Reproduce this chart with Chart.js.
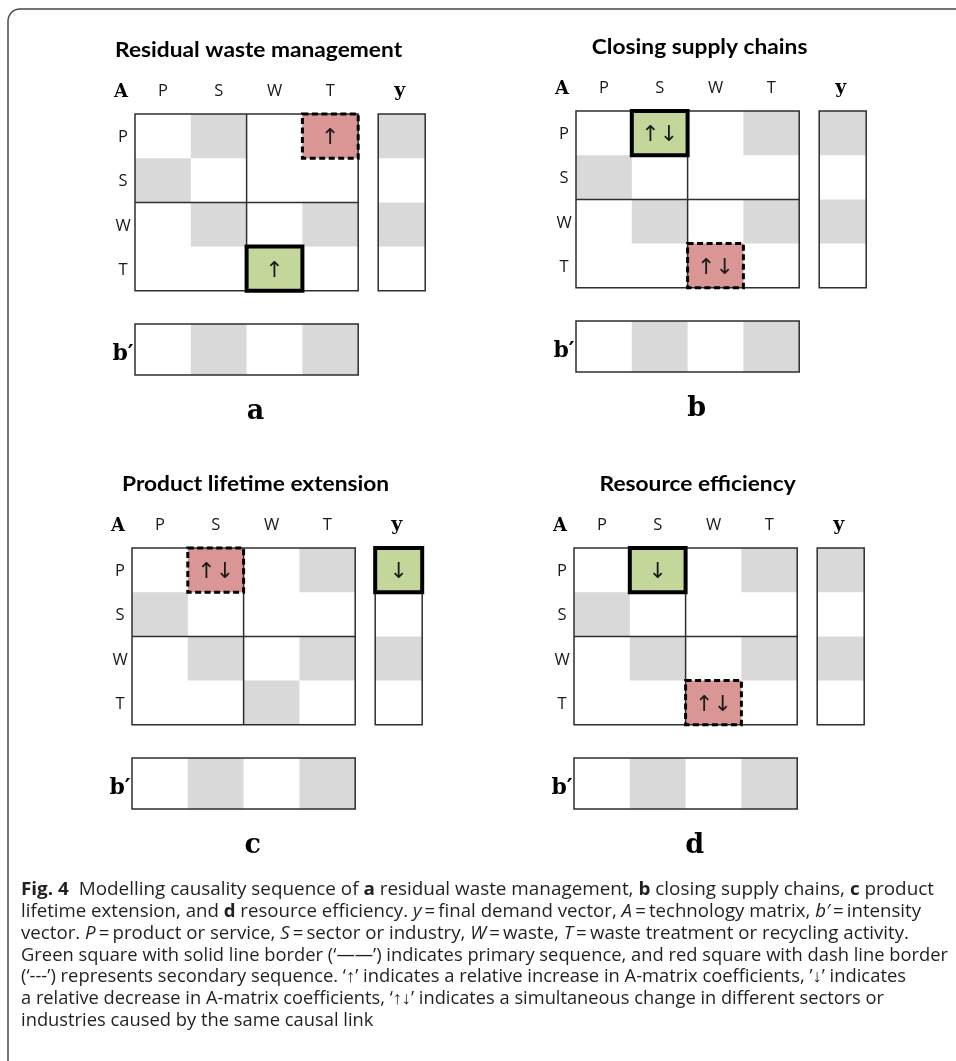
<!DOCTYPE html>
<html>
<head>
<meta charset="utf-8">
<script src="https://cdn.jsdelivr.net/npm/chart.js@4.4.0/dist/chart.umd.min.js"></script>
<style>
html, body { margin: 0; padding: 0; background: #fff; }
canvas { display: block; }
</style>
</head>
<body>
<canvas id="fig" width="956" height="1061"></canvas>
<script>
// ---- data ----
const ROWS = ['P', 'S', 'W', 'T'];
const COLS = ['P', 'S', 'W', 'T'];
const TITLES = ['Residual waste management', 'Closing supply chains', 'Product lifetime extension', 'Resource efficiency'];
const LETTERS = ['a', 'b', 'c', 'd'];
// shaded (non-zero) cells of A, y and b'
const A_SHADE = [[0, 1, 0, 1], [1, 0, 0, 0], [0, 1, 0, 1], [0, 0, 1, 0]];
const Y_SHADE = [1, 0, 1, 0];
const B_SHADE = [0, 1, 0, 1];
// [panel, block, row, col, change]
const PRIMARY = [[0, 'A', 3, 2, '↑'], [1, 'A', 0, 1, '↑↓'], [2, 'y', 0, 0, '↓'], [3, 'A', 0, 1, '↓']];
const SECONDARY = [[0, 'A', 0, 3, '↑'], [1, 'A', 3, 2, '↑↓'], [2, 'A', 0, 1, '↑↓'], [3, 'A', 3, 2, '↑↓']];
const CAPTION = [
  [['Fig. 4', 'b'], ['  Modelling causality sequence of ', 'n'], ['a', 'b'], [' residual waste management, ', 'n'], ['b', 'b'], [' closing supply chains, ', 'n'], ['c', 'b'], [' product', 'n']],
  [['lifetime extension, and ', 'n'], ['d', 'b'], [' resource efficiency. ', 'n'], ['y', 'i'], ['\u2009=\u2009final demand vector, ', 'n'], ['A', 'i'], ['\u2009=\u2009technology matrix, ', 'n'], ['b′', 'i'], ['\u2009=\u2009intensity', 'n']],
  [['vector. ', 'n'], ['P', 'i'], ['\u2009=\u2009product or service, ', 'n'], ['S', 'i'], ['\u2009=\u2009sector or industry, ', 'n'], ['W', 'i'], ['\u2009=\u2009waste, ', 'n'], ['T', 'i'], ['\u2009=\u2009waste treatment or recycling activity.', 'n']],
  [['Green square with solid line border (‘——’) indicates primary sequence, and red square with dash line border', 'n']],
  [['(‘---’) represents secondary sequence. ‘↑’ indicates a relative increase in A-matrix coefficients, ’↓’ indicates', 'n']],
  [['a relative decrease in A-matrix coefficients, ‘↑↓’ indicates a simultaneous change in different sectors or', 'n']],
  [['industries caused by the same causal link', 'n']]
];

// ---- layout ----
const ORIGINS = [[135, 114], [576, 111], [132, 548], [574, 548]];
const CW = 55.8, CH = 44.2;
const Y_GAP = 20, Y_W = 47;
const B_OFF = 210, B_H = 51;
const CAP_LEFT = 21, CAP_TOP = 895, CAP_STEP = 21.85;
const CAP_ENDS = [934, 921, 909, 948, 906, 884, null];
const GRAY = '#d9d9d9', GREEN = '#c4d79b', RED = '#da9694', LINE = '#2e2e2e';

function cellBox(p, block, r, c) {
  const [l, t] = ORIGINS[p];
  if (block === 'y') return [l + 4 * CW + Y_GAP, t + r * CH, Y_W, CH];
  if (block === 'b') return [l + c * CW, t + B_OFF, CW, B_H];
  return [l + c * CW, t + r * CH, CW, CH];
}

function drawText(ctx, text, x, y, font, align, sx) {
  ctx.save();
  ctx.font = font;
  ctx.textAlign = align || 'center';
  ctx.textBaseline = 'alphabetic';
  ctx.translate(x, y);
  ctx.scale(sx || 1, 1);
  ctx.fillText(text, 0, 0);
  ctx.restore();
}

const CAP_FONT = { n: '18px "Open Sans"', b: '700 18px "Open Sans"', i: 'italic 18px "Open Sans"' };

function runsWidth(ctx, runs) {
  let w = 0;
  runs.forEach(([txt, st]) => { ctx.font = CAP_FONT[st]; w += ctx.measureText(txt).width; });
  return w;
}

const figurePlugin = {
  id: 'figure',
  afterDraw(chart) {
    const ctx = chart.ctx;
    const xs = chart.scales.x, ys = chart.scales.y;
    const X = v => xs.getPixelForValue(v);
    const Y = v => ys.getPixelForValue(v);
    const rectPath = (x, y, w, h) => { ctx.beginPath(); ctx.rect(X(x), Y(y), X(x + w) - X(x), Y(y + h) - Y(y)); };
    const fillBox = (b, col) => { ctx.fillStyle = col; rectPath(b[0], b[1], b[2], b[3]); ctx.fill(); };
    const line = (x0, y0, x1, y1) => { ctx.beginPath(); ctx.moveTo(X(x0), Y(y0)); ctx.lineTo(X(x1), Y(y1)); ctx.stroke(); };

    // frame
    ctx.save();
    ctx.strokeStyle = '#4a4a4a';
    ctx.lineWidth = 1.5;
    ctx.beginPath();
    ctx.moveTo(X(8), Y(1061));
    ctx.lineTo(X(8), Y(21));
    ctx.arcTo(X(8), Y(9), X(20), Y(9), 12);
    ctx.lineTo(X(956), Y(9));
    ctx.stroke();
    ctx.restore();

    // title width calibration
    ctx.font = '700 21px Lato';
    const tScale = 287 / ctx.measureText(TITLES[0]).width;

    for (let p = 0; p < 4; p++) {
      const [l, t] = ORIGINS[p];
      // shading
      for (let r = 0; r < ROWS.length; r++) {
        for (let c = 0; c < COLS.length; c++) {
          if (A_SHADE[r][c]) fillBox(cellBox(p, 'A', r, c), GRAY);
        }
        if (Y_SHADE[r]) fillBox(cellBox(p, 'y', r, 0), GRAY);
      }
      for (let c = 0; c < COLS.length; c++) if (B_SHADE[c]) fillBox(cellBox(p, 'b', 0, c), GRAY);

      const prim = PRIMARY.filter(d => d[0] === p);
      const sec = SECONDARY.filter(d => d[0] === p);
      prim.forEach(d => fillBox(cellBox(p, d[1], d[2], d[3]), GREEN));
      sec.forEach(d => fillBox(cellBox(p, d[1], d[2], d[3]), RED));

      // grid lines
      ctx.save();
      ctx.strokeStyle = LINE;
      ctx.lineWidth = 1.5;
      rectPath(l, t, 4 * CW, 4 * CH); ctx.stroke();
      line(l + 2 * CW, t, l + 2 * CW, t + 4 * CH);
      line(l, t + 2 * CH, l + 4 * CW, t + 2 * CH);
      rectPath(l + 4 * CW + Y_GAP, t, Y_W, 4 * CH); ctx.stroke();
      rectPath(l, t + B_OFF, 4 * CW, B_H); ctx.stroke();
      ctx.restore();

      // highlight borders
      ctx.save();
      ctx.strokeStyle = '#000';
      prim.forEach(d => {
        const b = cellBox(p, d[1], d[2], d[3]);
        ctx.lineWidth = 4; ctx.setLineDash([]);
        rectPath(b[0], b[1], b[2], b[3]); ctx.stroke();
      });
      sec.forEach(d => {
        const b = cellBox(p, d[1], d[2], d[3]);
        ctx.lineWidth = 3; ctx.setLineDash([6, 3.5]);
        rectPath(b[0], b[1], b[2], b[3]); ctx.stroke();
      });
      ctx.restore();

      ctx.fillStyle = '#1a1a1a';
      prim.concat(sec).forEach(d => {
        const b = cellBox(p, d[1], d[2], d[3]);
        drawText(ctx, d[4], X(b[0] + b[2] / 2), Y(b[1] + b[3] / 2 + 8), '22px "DejaVu Sans"', 'center');
      });

      // labels
      ctx.fillStyle = '#000';
      const cx = l + 2 * CW;
      drawText(ctx, TITLES[p], X(cx + 12), Y(t - 57), '700 21px Lato', 'center', tScale);
      drawText(ctx, 'A', X(l - 14), Y(t - 17), '700 18px "DejaVu Serif"', 'center');
      drawText(ctx, 'y', X(l + 4 * CW + Y_GAP + Y_W / 2 - 2), Y(t - 18), '700 19px "DejaVu Serif"', 'center');
      ctx.fillStyle = '#1a1a1a';
      COLS.forEach((c, i) => drawText(ctx, c, X(l + (i + 0.5) * CW), Y(t - 18), '16.5px "Open Sans"', 'center'));
      ROWS.forEach((r, i) => drawText(ctx, r, X(l - 12), Y(t + (i + 0.5) * CH + 6), '16.5px "Open Sans"', 'center'));
      ctx.fillStyle = '#000';
      drawText(ctx, 'b′', X(l - 12), Y(t + B_OFF + B_H / 2 + 10.5), '700 22px "DejaVu Serif"', 'center');
      drawText(ctx, LETTERS[p], X(cx + 9), Y(t + B_OFF + B_H + 44), '700 27px "DejaVu Serif"', 'center');
    }

    // caption
    const baseScale = (CAP_ENDS[3] - CAP_LEFT) / runsWidth(ctx, CAPTION[3]);
    ctx.fillStyle = '#231f20';
    CAPTION.forEach((runs, i) => {
      const sc = CAP_ENDS[i] ? (CAP_ENDS[i] - CAP_LEFT) / runsWidth(ctx, runs) : baseScale;
      let x = CAP_LEFT;
      const yb = CAP_TOP + i * CAP_STEP;
      runs.forEach(([txt, st]) => {
        ctx.font = CAP_FONT[st];
        const w = ctx.measureText(txt).width * sc;
        drawText(ctx, txt, X(x), Y(yb), CAP_FONT[st], 'left', sc);
        x += w;
      });
    });
  }
};

new Chart(document.getElementById('fig'), {
  type: 'scatter',
  data: { datasets: [] },
  options: {
    responsive: false,
    animation: false,
    devicePixelRatio: 1,
    layout: { padding: 0 },
    scales: {
      x: { type: 'linear', min: 0, max: 956, display: false },
      y: { type: 'linear', min: 0, max: 1061, reverse: true, display: false }
    },
    plugins: { legend: { display: false }, tooltip: { enabled: false } }
  },
  plugins: [figurePlugin]
});
</script>
</body>
</html>
